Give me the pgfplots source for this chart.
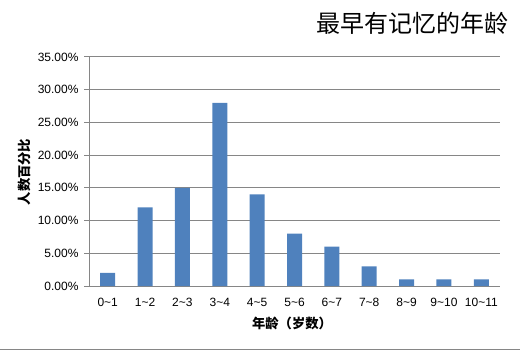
\documentclass[border=0pt]{standalone}
\usepackage{fontspec}
\setmainfont{Liberation Sans}
\newfontfamily\cjk{Noto Sans CJK SC}
\usepackage{pgfplots}
\pgfplotsset{compat=1.18}
\definecolor{barblue}{HTML}{4F81BD}
\definecolor{gridgray}{HTML}{868686}
\begin{document}
\begin{tikzpicture}[x=1bp,y=1bp]
\useasboundingbox (0,0) rectangle (520,354);
\begin{axis}[
  at={(89bp,68bp)}, anchor=south west,
  scale only axis, width=411bp, height=229bp,
  xmin=-0.5, xmax=10.5, ymin=0, ymax=35,
  axis x line=bottom, axis y line=left,
  axis line style={-, draw=gridgray, line width=1bp},
  ymajorgrids, grid style={draw=gridgray, line width=1bp},
  ytick={0,5,...,35},
  yticklabels={0.00\%,5.00\%,10.00\%,15.00\%,20.00\%,25.00\%,30.00\%,35.00\%},
  xtick={0,...,10},
  xticklabels={0\textasciitilde1,1\textasciitilde2,2\textasciitilde3,3\textasciitilde4,4\textasciitilde5,5\textasciitilde6,6\textasciitilde7,7\textasciitilde8,8\textasciitilde9,9\textasciitilde10,10\textasciitilde11},
  x tick style={draw=none},
  y tick style={draw=gridgray, line width=1bp},
  tick align=outside, major tick length=5bp,
  ticklabel style={font=\fontsize{12bp}{14bp}\selectfont, text=black},
  xticklabel style={yshift=-4bp},
  yticklabel style={xshift=-2bp},
  ybar, bar width=15bp,
  clip=false,
]
\addplot[fill=barblue, draw=none] coordinates {
 (0,2) (1,12) (2,15) (3,28) (4,14) (5,8) (6,6) (7,3) (8,1) (9,1) (10,1)
};
\end{axis}
\node[font=\cjk\fontsize{24bp}{28bp}\selectfont] at (412.5,331) {最早有记忆的年龄};
\node[font=\cjk\bfseries\fontsize{13.3bp}{16bp}\selectfont, rotate=90] at (24.5,182) {人数百分比};
\node[font=\cjk\bfseries\fontsize{13.3bp}{16bp}\selectfont] at (292,31) {年龄（岁数）};
\draw[gridgray, line width=1bp] (0,5) -- (520,5);
\end{tikzpicture}
\end{document}
